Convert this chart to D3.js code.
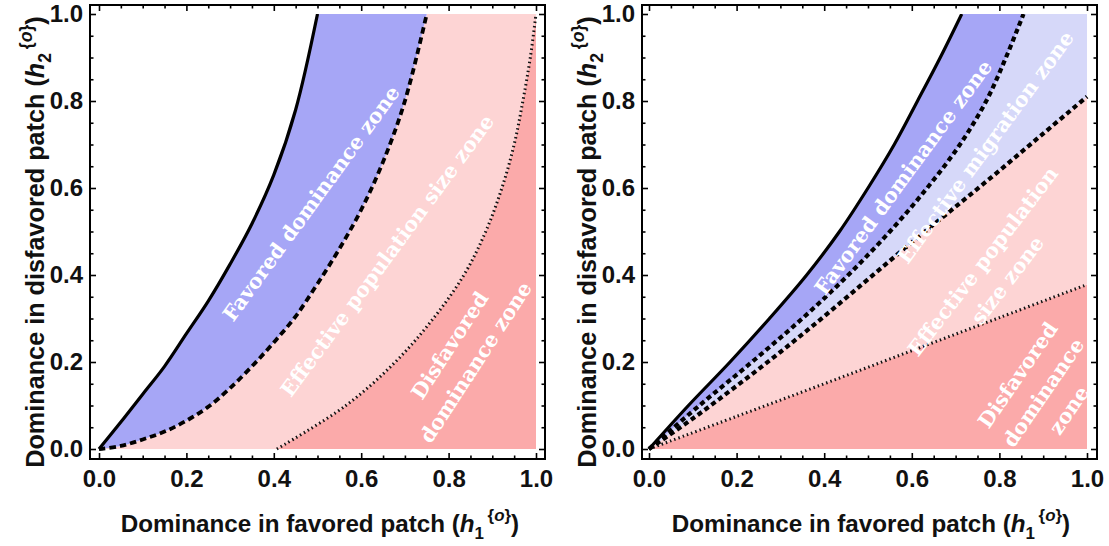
<!DOCTYPE html>
<html><head><meta charset="utf-8">
<script src="https://cdn.jsdelivr.net/npm/d3@7/dist/d3.min.js"></script>
<style>body{margin:0;background:#fff}svg{display:block}</style>
</head><body>
<svg id="chart" width="1109" height="546"></svg>
<script>
// ---------------- data ----------------
const majorTicks = [0, 0.2, 0.4, 0.6, 0.8, 1.0];
const tickLabels = ["0.0", "0.2", "0.4", "0.6", "0.8", "1.0"];
const minorTicks = [0.05, 0.1, 0.15, 0.25, 0.3, 0.35, 0.45, 0.5, 0.55, 0.65, 0.7, 0.75, 0.85, 0.9, 0.95];
const xTitleText = "Dominance in favored patch";
const yTitleText = "Dominance in disfavored patch";

// Left panel boundaries (h1 = favored patch, h2 = disfavored patch)
const leftSolidH1 = [0, 0.05, 0.10, 0.15, 0.20, 0.25, 0.30, 0.35, 0.40, 0.45, 0.50];
const leftSolidH2 = [0, 0.062, 0.126, 0.19, 0.265, 0.34, 0.425, 0.518, 0.63, 0.78, 1.0];
const leftDashedH1 = [0, 0.05, 0.10, 0.15, 0.20, 0.25, 0.30, 0.35, 0.40, 0.45, 0.50, 0.55, 0.60, 0.65, 0.70, 0.75];
const leftDashedH2 = [0, 0.007, 0.022, 0.04, 0.065, 0.097, 0.14, 0.19, 0.245, 0.305, 0.38, 0.46, 0.55, 0.66, 0.8, 1.0];
const leftDottedH2 = [0, 0.1, 0.2, 0.3, 0.4, 0.5, 0.6, 0.7, 0.8, 0.9, 1.0];
const leftDottedH1 = [0.407, 0.565, 0.678, 0.765, 0.835, 0.885, 0.922, 0.95, 0.97, 0.987, 1.0];

// Right panel boundaries
const rightSolidH1 = [0, 0.09, 0.185, 0.275, 0.36, 0.435, 0.5, 0.56, 0.613, 0.665, 0.714];
const rightSolidH2 = [0, 0.1, 0.2, 0.3, 0.4, 0.5, 0.6, 0.7, 0.8, 0.9, 1.0];
const rightDashed1H1 = [0, 0.115, 0.235, 0.35, 0.455, 0.55, 0.635, 0.71, 0.77, 0.815, 0.855];
const rightDashed1H2 = [0, 0.1, 0.2, 0.3, 0.4, 0.5, 0.6, 0.7, 0.8, 0.9, 1.0];
const rightDashed2H1 = [0, 0.1, 0.2, 0.3, 0.4, 0.5, 0.6, 0.7, 0.8, 0.9, 1.0];
const rightDashed2H2 = [0, 0.07, 0.145, 0.223, 0.305, 0.39, 0.475, 0.557, 0.64, 0.725, 0.81];
const rightDottedH1 = [0, 0.2, 0.4, 0.6, 0.8, 1.0];
const rightDottedH2 = [0, 0.075, 0.15, 0.226, 0.302, 0.378];

// Zone labels
const leftZoneLabels = [["Favored dominance zone"], ["Effective population size zone"], ["Disfavored", "dominance zone"]];
const rightZoneLabels = [["Favored dominance zone"], ["Effective migration zone"], ["Effective population", "size zone"], ["Disfavored", "dominance", "zone"]];

// ---------------- layout ----------------
const COLORS = { blue: "#a6a6f6", lightBlue: "#d6d8f9", lightPink: "#fdd4d4", red: "#fbaaaa" };
const frameTop = 5, frameBottom = 459;
const yRange = [449, 14];
const panels = [
  { frameL: 90, frameR: 545, xRange: [99, 536], xTitleX: 320, yTitleX: 44,
    labelPos: [{ x: 0.485, y: 0.565, a: -54 }, { x: 0.659, y: 0.445, a: -53.6 }, { x: 0.832, y: 0.219, a: -57 }] },
  { frameL: 642, frameR: 1097, xRange: [649, 1087], xTitleX: 871, yTitleX: 596,
    labelPos: [{ x: 0.58, y: 0.625, a: -53.8 }, { x: 0.768, y: 0.694, a: -53.7 }, { x: 0.79, y: 0.41, a: -52.5 }, { x: 0.9, y: 0.13, a: -55.5 }] }
];

const svg = d3.select("#chart");
const defs = svg.append("defs");

function measure(text, family, weight, size) {
  const t = svg.append("text").attr("font-family", family).attr("font-weight", weight)
    .attr("font-size", size).text(text);
  const w = t.node().getComputedTextLength();
  t.remove();
  return w;
}

const labelFont = "'DejaVu Serif', serif";
const labelSize = 20 * 285 / measure("Favored dominance zone", labelFont, "bold", 20);
const lineH = 31;

const tickFont = "'Liberation Sans', Arial, sans-serif";

function title(t, main, digit, fs) {
  t.attr("font-family", tickFont).attr("font-weight", "bold").attr("font-size", fs)
    .attr("fill", "#111").attr("text-anchor", "middle");
  t.append("tspan").text(main + " (");
  t.append("tspan").attr("font-style", "italic").text("h");
  t.append("tspan").attr("font-size", fs * 0.7).attr("dy", fs * 0.28).text(digit);
  t.append("tspan").attr("font-size", fs * 0.7).attr("dy", -fs * 0.75).attr("dx", fs * 0.15).text("{");
  t.append("tspan").attr("font-size", fs * 0.7).attr("font-style", "italic").text("o");
  t.append("tspan").attr("font-size", fs * 0.7).text("}");
  t.append("tspan").attr("dy", fs * 0.47).text(")");
}
function fitTitle(main, digit, target) {
  const t = svg.append("text");
  title(t, main, digit, 20);
  const w = t.node().getComputedTextLength();
  t.remove();
  return 20 * target / w;
}
const xTitleSize = fitTitle(xTitleText, "1", 395);
const yTitleSize = fitTitle(yTitleText, "2", 448);

function drawPanel(p, idx, data) {
  const x = d3.scaleLinear().domain([0, 1]).range(p.xRange);
  const y = d3.scaleLinear().domain([0, 1]).range(yRange);
  const g = svg.append("g");
  const clipId = "clip" + idx;
  defs.append("clipPath").attr("id", clipId).append("rect")
    .attr("x", x(0)).attr("y", y(1)).attr("width", x(1) - x(0)).attr("height", y(0) - y(1));
  const clipId2 = "clipL" + idx;
  defs.append("clipPath").attr("id", clipId2).append("rect")
    .attr("x", x(0) - 3).attr("y", y(1)).attr("width", x(1) - x(0) + 6).attr("height", y(0) - y(1) + 3);

  const lineGen = d3.line().x(d => x(d[0])).y(d => y(d[1])).curve(d3.curveCatmullRom.alpha(0.5));
  const seg = (pts, first) => { const s = lineGen(pts); return first ? s : s.replace(/^M/, "L"); };
  const P = (a, b) => "L" + x(a) + "," + y(b);

  const fills = g.append("g").attr("clip-path", `url(#${clipId})`);
  data.fills(seg, P).forEach(f => {
    fills.append("path").attr("d", f.d).attr("fill", COLORS[f.c]).attr("stroke", "none");
  });

  const lines = g.append("g").attr("clip-path", `url(#${clipId2})`).attr("fill", "none");
  data.lines.forEach(l => {
    const path = lines.append("path").attr("d", lineGen(l.pts)).attr("stroke", "#000");
    if (l.style === "solid") path.attr("stroke-width", 3.2);
    if (l.style === "dashed") path.attr("stroke-width", l.w).attr("stroke-dasharray", l.dash);
    if (l.style === "dotted") path.attr("stroke-width", 3).attr("stroke-dasharray", "1.5,3").attr("stroke", "#111");
  });

  // zone labels
  data.labels.forEach((lines, i) => {
    const pos = p.labelPos[i];
    const tg = g.append("g").attr("transform", `translate(${x(pos.x)},${y(pos.y)}) rotate(${pos.a})`);
    lines.forEach((s, j) => {
      tg.append("text").attr("x", 0).attr("y", (j - (lines.length - 1) / 2) * lineH)
        .attr("dy", "0.36em").attr("text-anchor", "middle")
        .attr("font-family", labelFont).attr("font-weight", "bold").attr("font-size", labelSize)
        .attr("fill", "#fff").text(s);
    });
  });

  // frame
  g.append("rect").attr("x", p.frameL).attr("y", frameTop)
    .attr("width", p.frameR - p.frameL).attr("height", frameBottom - frameTop)
    .attr("fill", "none").attr("stroke", "#000").attr("stroke-width", 2);

  const styleAxis = (sel, labels) => {
    sel.select(".domain").remove();
    sel.selectAll(".tick line").attr("stroke", "#000").attr("stroke-width", 1.6);
    sel.selectAll("text").attr("font-family", tickFont).attr("font-weight", "bold")
      .attr("font-size", 24).attr("fill", "#111");
    if (!labels) sel.selectAll("text").remove();
  };
  const fmt = d => tickLabels[majorTicks.indexOf(d)];

  // bottom
  g.append("g").attr("transform", `translate(0,${frameBottom})`)
    .call(d3.axisBottom(x).tickValues(majorTicks).tickFormat(fmt).tickSize(-6).tickPadding(11))
    .call(s => styleAxis(s, true));
  g.append("g").attr("transform", `translate(0,${frameBottom})`)
    .call(d3.axisBottom(x).tickValues(minorTicks).tickSize(-3.5)).call(s => styleAxis(s, false));
  // top
  g.append("g").attr("transform", `translate(0,${frameTop})`)
    .call(d3.axisTop(x).tickValues(majorTicks).tickSize(-6)).call(s => styleAxis(s, false));
  g.append("g").attr("transform", `translate(0,${frameTop})`)
    .call(d3.axisTop(x).tickValues(minorTicks).tickSize(-3.5)).call(s => styleAxis(s, false));
  // left
  g.append("g").attr("transform", `translate(${p.frameL},0)`)
    .call(d3.axisLeft(y).tickValues(majorTicks).tickFormat(fmt).tickSize(-6).tickPadding(7))
    .call(s => styleAxis(s, true));
  g.append("g").attr("transform", `translate(${p.frameL},0)`)
    .call(d3.axisLeft(y).tickValues(minorTicks).tickSize(-3.5)).call(s => styleAxis(s, false));
  // right
  g.append("g").attr("transform", `translate(${p.frameR},0)`)
    .call(d3.axisRight(y).tickValues(majorTicks).tickSize(-6)).call(s => styleAxis(s, false));
  g.append("g").attr("transform", `translate(${p.frameR},0)`)
    .call(d3.axisRight(y).tickValues(minorTicks).tickSize(-3.5)).call(s => styleAxis(s, false));

  // titles
  const xt = g.append("text").attr("x", p.xTitleX).attr("y", 532);
  title(xt, xTitleText, "1", xTitleSize);
  const yt = g.append("text").attr("transform", `translate(${p.yTitleX},${(frameTop + frameBottom) / 2 + 10}) rotate(-90)`);
  title(yt, yTitleText, "2", yTitleSize);
}

const Z = (a, b) => d3.zip(a, b);
const L = {
  solid: Z(leftSolidH1, leftSolidH2),
  dashed: Z(leftDashedH1, leftDashedH2),
  dotted: Z(leftDottedH1, leftDottedH2)
};
const R = {
  solid: Z(rightSolidH1, rightSolidH2),
  d1: Z(rightDashed1H1, rightDashed1H2),
  d2: Z(rightDashed2H1, rightDashed2H2),
  dotted: Z(rightDottedH1, rightDottedH2)
};
const last = a => a[a.length - 1];
const rev = a => a.slice().reverse();

drawPanel(panels[0], 0, {
  fills: (seg, P) => [
    { c: "red", d: seg(L.dotted, true) + P(1, 0) + "Z" },
    { c: "lightPink", d: seg(L.dashed, true) + P(1, 1) + seg(rev(L.dotted)) + P(0, 0) + "Z" },
    { c: "blue", d: seg(L.solid, true) + P(last(L.dashed)[0], 1) + seg(rev(L.dashed)) + "Z" }
  ],
  lines: [
    { pts: L.dotted, style: "dotted" },
    { pts: L.dashed, style: "dashed", dash: "6.5,4", w: 3.8 },
    { pts: L.solid, style: "solid" }
  ],
  labels: leftZoneLabels
});

drawPanel(panels[1], 1, {
  fills: (seg, P) => [
    { c: "red", d: seg(R.dotted, true) + P(1, 0) + "Z" },
    { c: "lightPink", d: seg(R.d2, true) + P(1, last(R.dotted)[1]) + seg(rev(R.dotted)) + "Z" },
    { c: "lightBlue", d: seg(R.d1, true) + P(1, 1) + P(1, last(R.d2)[1]) + seg(rev(R.d2)) + "Z" },
    { c: "blue", d: seg(R.solid, true) + P(last(R.d1)[0], 1) + seg(rev(R.d1)) + "Z" }
  ],
  lines: [
    { pts: R.dotted, style: "dotted" },
    { pts: R.d2, style: "dashed", dash: "5,3.5", w: 4.2 },
    { pts: R.d1, style: "dashed", dash: "5,3.5", w: 4.2 },
    { pts: R.solid, style: "solid" }
  ],
  labels: rightZoneLabels
});
</script>
</body></html>
